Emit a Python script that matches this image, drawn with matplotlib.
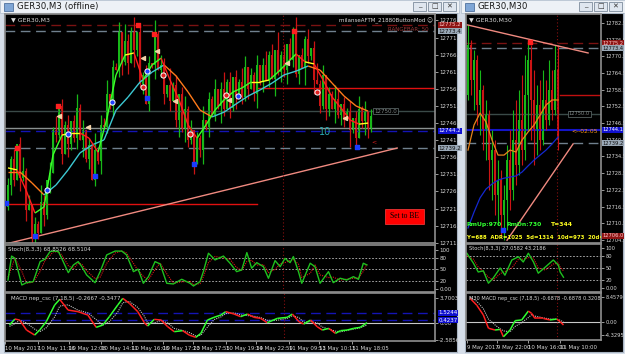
import numpy as np
import matplotlib.pyplot as plt
from matplotlib.patches import Rectangle
from matplotlib.collections import LineCollection

W, H = 625, 354

# ---- GER30,M3 (left window) ----
first_open = 12722.0
close = [12728.5, 12736, 12730, 12740.5, 12730.5, 12732.5, 12721, 12722.5, 12712.5, 12717,
         12714.5, 12723.5, 12719.5, 12730, 12732, 12744.5, 12743, 12751.5, 12737.5, 12746,
         12740.5, 12747, 12742, 12751, 12741.5, 12744.5, 12736, 12740, 12730, 12738.5,
         12735.5, 12746, 12745.5, 12755, 12751.5, 12763, 12762, 12773, 12764.5, 12770.5,
         12764, 12773.5, 12768, 12773, 12758, 12760.5, 12752, 12764, 12763.5, 12772.5,
         12762, 12763.5, 12755, 12757.5, 12753, 12757.5, 12747.5, 12755, 12745, 12750.5,
         12741.5, 12744.5, 12734.5, 12742, 12738.5, 12747.5, 12745.5, 12753.5, 12749, 12756.5,
         12751.5, 12756.5, 12750.5, 12758.5, 12751, 12760, 12754.5, 12758.5, 12754, 12763,
         12756.5, 12760.5, 12755, 12763.5, 12758.5, 12763.5, 12759, 12766.5, 12759.5, 12768,
         12761.5, 12766.5, 12762, 12769.5, 12765, 12773.5, 12761, 12766.5, 12762.5, 12771,
         12766, 12768.5, 12759, 12758, 12751.5, 12760.5, 12750.5, 12755, 12750.5, 12753.5,
         12749, 12752, 12747.5, 12750, 12744.5, 12748, 12742, 12750.5, 12747, 12750,
         12745, 12748.5]
# wick lengths (points) above / below the body, one digit per bar
upper_wick = ("2130241302" "1520314021" "3024130205" "1324021305" "2140213204" "1320513024"
              "1302140213" "0251302143" "0213024130" "5130214021" "3025130214" "3021302413" "02")
lower_wick = ("1320413025" "2031402130" "4213051302" "1402130241" "3052130214" "0231302514"
              "2130241302" "1520314021" "3024130205" "1324021305" "2140213204" "1320513024" "31")

fast_ma = [12733.4, 12732.8, 12726.9, 12720.2, 12722.0, 12737.2, 12743.0, 12743.6, 12743.6, 12742.1,
           12738.0, 12748.0, 12760.6, 12766.4, 12767.0, 12759.1, 12763.5, 12765.5, 12759.1, 12753.3,
           12746.0, 12742.1, 12746.0, 12750.3, 12753.3, 12755.6, 12756.8, 12758.5, 12758.5, 12759.1,
           12761.4, 12764.1, 12766.7, 12764.4, 12763.8, 12759.1, 12754.1, 12750.9, 12747.4, 12746.2,
           12746.5]
slow_ma = [12732.2, 12732.2, 12729.0, 12725.5, 12728.4, 12732.8, 12737.8, 12740.1, 12741.6, 12750.3,
           12754.1, 12758.5, 12761.4, 12763.5, 12760.3, 12755.6, 12750.3, 12748.3, 12749.7, 12752.1,
           12754.4, 12756.2, 12758.2, 12760.6, 12761.7, 12763.2, 12762.0, 12758.2, 12754.4, 12751.5,
           12750.0]

fr_up_bar = [3, 16.7, 43.3, 48.7, 95.3]
fr_up_price = [12739.2, 12751.5, 12775.2, 12772.6, 12773.4]
fr_dn_bar = [-0.7, 9, 29, 46.3, 62, 116.3]
fr_dn_price = [12723.1, 12713.5, 12731.0, 12753.8, 12734.5, 12739.5]
buy_bar = [13, 20, 34.7, 46.3, 76.7]
buy_price = [12727.0, 12743.3, 12752.7, 12761.7, 12754.4]
sell_bar = [45, 51.7, 60.7, 72.7, 103]
sell_price = [12757.1, 12760.6, 12743.3, 12754.7, 12755.6]
tri_bar = [17, 26.7, 45, 49.7, 55.7, 73.7, 93, 112.3]
tri_price = [12748.6, 12745.4, 12765.5, 12767.6, 12753.0, 12753.3, 12764.1, 12748.0]

stoch_bar = [0, 1.2, 2.3, 4.6, 6.2, 8.4, 10.7, 12.3, 14, 15.1, 16.8, 17.9, 20.1, 21.8, 23.4, 24.6,
             26.2, 29, 30.7, 32.9, 35.7, 37.9, 39.5, 41.8, 43.4, 45.1, 46.8, 49, 50.7, 52.9, 55.1,
             57.9, 60.7, 61.8, 64, 65.1, 66.8, 69, 71.8, 74, 76.2, 77.9, 79.6, 81.2, 82.9, 85.1,
             86.8, 89, 90.7, 92.3, 94, 95.1, 96.8, 97.9, 100.7, 102.3, 104, 106.8, 108.4, 110.7,
             112.9, 115.1, 116.8, 118.4, 119.6]
stoch_k = [22.7, 85, 79, 9.7, 15.7, 18.4, 70.5, 76.7, 96.7, 98, 96.7, 79, 41.8, 61.8, 70.5, 57.4,
           35.8, 15.7, 44.4, 88, 98, 98, 88, 44.4, 50.6, 14.1, 31.3, 70.5, 64.5, 14.1, 12.3, 24.5,
           14.1, 7, 18.4, 44.4, 92.4, 74.9, 85, 66.3, 44.4, 48.8, 94, 53.3, 67.9, 57.4, 27.2, 73.1,
           57.4, 79, 67.9, 83.6, 44.4, 14.1, 66.3, 57.4, 14.1, 44.4, 15.7, 27.2, 22.7, 31.3, 24.5,
           66.3, 61.8]
stoch_d = [30, 55, 80, 45, 14, 17, 45, 73, 87, 96, 96, 88, 60, 52, 66, 64, 47, 26, 30, 66, 93, 98,
           93, 66, 47, 32, 23, 50, 67, 39, 14, 18, 19, 11, 13, 31, 68, 84, 80, 76, 55, 47, 71, 74,
           61, 63, 42, 50, 65, 68, 73, 76, 64, 29, 40, 62, 36, 29, 30, 22, 25, 27, 28, 45, 64]

macd_bar = [0, 1.8, 3.4, 5.7, 8.4, 10.1, 12.3, 15.1, 16.8, 19.6, 22.9, 26.2, 29, 31.2, 33.4, 36.2,
            37.9, 40.1, 42.9, 45.1, 46.2, 48.4, 50.7, 52.9, 55.1, 57.9, 60.1, 62.3, 64, 66.2, 68.4,
            70.7, 72.3, 75.1, 77.3, 79.6, 81.8, 84, 86.2, 89.6, 92.9, 94.6, 96.8, 98.4, 100.7,
            102.9, 104.6, 106.8, 109, 110.7, 112.9, 115.1, 117.3, 119.6]
macd = [-0.30, 0.59, 0.44, -1.04, -1.78, -1.04, 0.20, 2.66, 3.50, 1.92, 1.68, 1.18, -0.64, -0.30,
        0.94, 2.66, 3.65, 2.91, 1.68, 0.05, -0.44, 0.54, 0.44, -0.54, -1.28, -1.13, -1.78, -2.12,
        -1.53, 0.44, 0.84, 1.18, 1.68, 1.33, 0.94, 1.33, 0.84, 0.69, 0.05, 0.69, 0.84, 1.33, 0.20,
        -0.15, 0.44, -0.54, -1.04, -0.79, -1.53, -1.13, -1.04, -0.79, -0.64, 0.05]
macd_sig = [-0.5, -0.1, 0.4, 0.0, -0.9, -1.3, -0.7, 0.9, 2.5, 2.7, 1.9, 1.5, 0.5, -0.3, 0.2, 1.6,
            3.0, 3.2, 2.3, 1.0, 0.0, 0.0, 0.4, 0.0, -0.8, -1.1, -1.4, -1.9, -1.8, -0.6, 0.5, 0.9,
            1.4, 1.5, 1.2, 1.1, 1.0, 0.8, 0.4, 0.4, 0.7, 1.1, 0.8, 0.1, 0.2, 0.0, -0.6, -0.9, -1.2,
            -1.3, -1.1, -0.9, -0.7, -0.3]

date_labels = ['10 May 2017', '10 May 11:16', '10 May 12:08', '10 May 14:11', '10 May 16:08',
               '10 May 17:23', '10 May 17:55', '10 May 19:34', '10 May 22:59', '11 May 09:53',
               '11 May 10:15', '11 May 18:05']
date_bars = [-1.5, 9.5, 20, 30.5, 41, 51.5, 61.5, 72.5, 82.5, 93.5, 103.5, 114.5]

# ---- GER30,M30 (right window) ----
r_first_open = 12756.6
r_close = [12774.6, 12762.0, 12769.2, 12753.0, 12758.4, 12744.0, 12749.4, 12733.2, 12736.8, 12720.6,
           12726.0, 12713.4, 12718.8, 12733.2, 12722.4, 12740.4, 12731.4, 12747.6, 12736.8, 12756.6,
           12769.2, 12754.8, 12744.0, 12753.0, 12740.4, 12754.8, 12747.6, 12758.4, 12751.2, 12765.6,
           12740.4]
r_high = [12781.8, 12776.4, 12772.8, 12771.0, 12765.6, 12760.2, 12754.8, 12751.2, 12744.0, 12740.4,
          12733.2, 12729.6, 12724.2, 12738.6, 12744.0, 12751.2, 12754.8, 12758.4, 12763.8, 12771.0,
          12775.7, 12774.6, 12765.6, 12760.2, 12762.0, 12765.6, 12762.0, 12769.2, 12765.6, 12774.6,
          12774.6]
r_low = [12754.8, 12756.6, 12751.2, 12745.8, 12742.2, 12736.8, 12733.2, 12722.4, 12718.8, 12713.4,
         12709.8, 12706.2, 12704.4, 12708.0, 12715.2, 12718.8, 12724.2, 12727.8, 12731.4, 12733.2,
         12744.0, 12740.4, 12731.4, 12735.0, 12736.8, 12738.6, 12744.0, 12745.8, 12747.6, 12749.4,
         12736.8]
r_orange_ma = [12736.8, 12745.8, 12750.1, 12746.9, 12740.4, 12735.0, 12735.0, 12736.8, 12736.1,
               12740.4, 12743.3, 12745.8, 12749.4, 12753.0, 12754.8, 12754.8]
r_blue_ma = [12708.8, 12714.5, 12719.6, 12722.8, 12724.6, 12726.0, 12726.7, 12727.1, 12727.5,
             12728.9, 12731.1, 12733.2, 12735.0, 12736.8, 12739.0, 12741.5]

r_stoch_bar = [-0.4, 1.8, 3.4, 5.1, 6.8, 8.4, 10.7, 12.3, 14.6, 16.8, 18.4, 20.1, 21.8, 23.4, 25.7,
               28.4, 30.1, 30.7, 31.8]
r_stoch_k = [87, 62, 40, 43, 12, 25, 50, 32, 70, 78, 65, 87, 65, 37, 52, 70, 57, 40, 27]
r_stoch_d = [80, 72, 52, 41, 27, 20, 36, 41, 50, 72, 72, 76, 75, 50, 45, 60, 62, 52, 43]

r_macd_bar = [0.7, 2.9, 5.1, 6.8, 9, 10.7, 11.8, 14, 15.7, 17.9, 20.1, 21.2, 22.3, 25.1, 27.3, 29.6,
              30.7, 31.8]
r_macd = [8.0, 5.7, 2.4, -2.1, -2.7, -2.5, -5.0, -2.7, 0.45, 0.7, 3.7, 2.9, 1.2, 1.2, 0.7, 1.0, 0.1, -1.0]
r_macd_sig = [8.5, 7.0, 4.5, 1.0, -1.0, -2.3, -3.0, -3.3, -1.5, -0.2, 1.5, 2.5, 2.0, 1.4, 1.0, 0.9, 0.6, 0.0]

r_date_labels = ['9 May 2017', '9 May 22:00', '10 May 16:00', '11 May 10:00']
r_date_bars = [-0.3, 9.7, 20, 30.7]

GREEN = '#18b818'
RED = '#cc1414'
TXT = '#d8d8d8'
SPINE = '#8e8e8e'
FS = 4.0

fig = plt.figure(figsize=(6.25, 3.54), dpi=100)
fig.patch.set_facecolor('#d6dee9')


def px_axes(x0, y0, x1, y1):
    return fig.add_axes([x0 / W, 1 - y1 / H, (x1 - x0) / W, (y1 - y0) / H])


def frect(x0, y0, x1, y1, zorder=-1, **kw):
    fig.patches.append(Rectangle((x0 / W, 1 - y1 / H), (x1 - x0) / W, (y1 - y0) / H,
                                 transform=fig.transFigure, zorder=zorder, **kw))


def ftext(x, y, s, **kw):
    fig.text(x / W, 1 - y / H, s, **kw)


def style_panel(ax, xlim, ylim, ticks, labels, fs=FS):
    ax.set_facecolor('black')
    ax.set_xlim(*xlim)
    ax.set_ylim(*ylim)
    for sp in ax.spines.values():
        sp.set_color(SPINE)
        sp.set_linewidth(1.2)
    ax.yaxis.tick_right()
    ax.set_yticks(ticks)
    ax.set_yticklabels(labels)
    ax.tick_params(axis='y', colors=TXT, labelsize=fs, length=2, width=0.5, pad=1)
    ax.set_xticks([])


def colored_line(ax, x, y, up, down, flat=None, thr=0.0, lw=1.0, ls='-'):
    x = np.asarray(x, float)
    y = np.asarray(y, float)
    segs = [[(x[k], y[k]), (x[k + 1], y[k + 1])] for k in range(len(x) - 1)]
    cols = []
    for k in range(len(x) - 1):
        dy = y[k + 1] - y[k]
        if flat is not None and abs(dy) <= thr:
            cols.append(flat)
        elif dy > 0:
            cols.append(up)
        else:
            cols.append(down)
    ax.add_collection(LineCollection(segs, colors=cols, linewidths=lw, linestyles=ls))


def candles(ax, o, c, h, l, width, lw):
    o, c, h, l = map(np.asarray, (o, c, h, l))
    x = np.arange(len(c))
    cols = np.where(c >= o, GREEN, RED)
    ax.vlines(x, l, h, colors=cols, linewidth=lw)
    body = np.maximum(np.abs(c - o), 0.3)
    ax.bar(x, body, bottom=np.minimum(o, c), width=width, color=cols, linewidth=0)


def price_box(ax, y, s, fc, tc, fs=FS):
    ax.text(1.008, y, s, transform=ax.get_yaxis_transform(), fontsize=fs, color=tc,
            va='center', ha='left', clip_on=False, zorder=6,
            bbox=dict(boxstyle='square,pad=0.1', fc=fc, ec='none'))


def window_chrome(x0, x1, title):
    frect(x0, 0, x1, 13, facecolor='#edf1f6', edgecolor='#b8c4d2', linewidth=0.6)
    frect(x0 + 4, 3, x0 + 13, 11, facecolor='#7fa6d6', edgecolor='#3a5f8f', linewidth=0.5)
    ftext(x0 + 17, 7, title, fontsize=6.2, color='#1a1a1a', va='center')
    for k, g in enumerate(['_', '\u25a1', '\u2715']):
        bx = x1 - 46 + 15 * k
        frect(bx, 2, bx + 13, 11, facecolor='#dfe6ef', edgecolor='#7e8c9c', linewidth=0.6)
        ftext(bx + 6.5, 6.2 if g != '_' else 4.5, g, fontsize=5, color='#333333',
              ha='center', va='center')


# ---------------- left window ----------------
window_chrome(0, 459, 'GER30,M3 (offline)')
frect(4, 13, 457, 352, facecolor='black', edgecolor='#a9b5c3', linewidth=0.8)

N = len(close)
opens = [first_open] + close[:-1]
uw = [int(ch) for ch in upper_wick[:N]]
lw_ = [int(ch) for ch in lower_wick[:N]]
highs = [max(o, c) + u for o, c, u in zip(opens, close, uw)]
lows = [min(o, c) - d for o, c, d in zip(opens, close, lw_)]

xl = (-1, 142.3)
axm = px_axes(5, 14, 435, 243)
pt = np.arange(12711.5, 12777, 5)
style_panel(axm, xl, (12711.44, 12778.4), pt, ['%.1f' % v for v in pt])

axm.axhline(12775.2, color='#7a1212', lw=1, ls=(0, (7, 4)))
axm.axhline(12773.4, color='#70808e', lw=1, ls=(0, (7, 4)))
axm.axhline(12750.0, color='#3a4a48', lw=1)
axm.axhline(12745.1, color='#8a9090', lw=1)
axm.axhline(12744.2, color='#1414b4', lw=1, ls=(0, (7, 4)))
axm.axhline(12739.2, color='#70808e', lw=1, ls=(0, (7, 4)))
axm.plot([83.3, 142.3], [12756.8, 12756.8], color='#e01010', lw=1)
axm.plot([-1, 83], [12722.8, 12722.8], color='#e01010', lw=1)
axm.plot([-1, 129.7], [12711.1, 12739.2], color='#f08a80', lw=1)
axm.axvline(91.7, color='#8a1010', lw=0.8, ls=(0, (1, 2)))

candles(axm, opens, close, highs, lows, 0.75, 0.9)
colored_line(axm, np.arange(len(slow_ma)) * 4, slow_ma, '#3cc8d2', '#ff7a1a', lw=1.0)
colored_line(axm, np.arange(len(fast_ma)) * 3, fast_ma, '#3cff2a', '#ff1e1e', '#ffff20', 0.7, lw=1.0)

axm.scatter(fr_up_bar, fr_up_price, s=7, marker='s', color='#ff2020', zorder=5)
axm.scatter(fr_dn_bar, fr_dn_price, s=7, marker='s', color='#1a3cff', zorder=5)
axm.scatter(buy_bar, buy_price, s=14, color='#2040ff', edgecolors='white', linewidths=0.7, zorder=5)
axm.scatter(sell_bar, sell_price, s=14, color='#e02020', edgecolors='white', linewidths=0.7, zorder=5)
axm.scatter(tri_bar, tri_price, s=8, marker='<', color='#f2d2a8', zorder=5)
axm.text(121, 12741.0, '<', color='#e02020', fontsize=4.5, va='center')
axm.text(103.5, 12744.0, '10', color='#2aa8b0', fontsize=7, va='center')
axm.text(122, 12750.0, '12750.0', color='#808888', fontsize=FS, va='center',
         bbox=dict(boxstyle='square,pad=0.15', fc='black', ec='#556060', lw=0.6))
axm.text(0.015, 0.985, '\u25bc GER30,M3', transform=axm.transAxes, fontsize=4.5, color=TXT, va='top')
axm.text(0.995, 0.985, 'milanseAFTM_21880ButtonMod \u263a', transform=axm.transAxes, fontsize=FS,
         color=TXT, va='top', ha='right')
axm.text(0.985, 0.945, 'RANGEBAR: 50', transform=axm.transAxes, fontsize=FS,
         color='#9a3a3a', va='top', ha='right')
price_box(axm, 12775.2, '12775.2', '#8e1414', '#ffc8c8')
price_box(axm, 12773.4, '12773.4', '#9aa8b6', '#101010')
price_box(axm, 12744.2, '12744.2', '#1010d0', 'white')
price_box(axm, 12739.2, '12739.2', '#9aa8b6', '#101010')

frect(385, 209, 424, 224, zorder=5, facecolor='#ff0000', edgecolor='#ff4040', linewidth=0.5)
ftext(404.5, 216.5, 'Set to BE', fontsize=5.5, family='Liberation Serif', color='black',
      ha='center', va='center', zorder=6)

axs = px_axes(5, 245, 435, 292)
style_panel(axs, xl, (-8.6, 113.8), [0, 20, 50, 80, 100], ['0.00', '20', '50', '80', '100'])
for lv in (20, 50, 80):
    axs.axhline(lv, color='#bdbdbd', lw=0.6, ls=(0, (2, 2)))
axs.axvline(91.7, color='#8a1010', lw=0.8, ls=(0, (1, 2)))
axs.plot(stoch_bar, stoch_d, color='#e01818', lw=0.8, ls=(0, (1, 1)))
axs.plot(stoch_bar, stoch_k, color='#1fc01f', lw=1.0)
axs.text(0.008, 0.95, 'Stoch(8,3,3) 68.8526 68.5104', transform=axs.transAxes, fontsize=FS,
         color=TXT, va='top')

axc = px_axes(5, 293, 435, 341)
style_panel(axc, xl, (-2.66, 4.44), [-2.5856, 0, 3.7003], ['-2.5856', '0.00', '3.7003'])
axc.axhline(0, color='#c8c8c8', lw=0.8)
axc.axhline(1.5244, color='#1414b4', lw=1, ls=(0, (7, 4)))
axc.axhline(0.4237, color='#1414b4', lw=1, ls=(0, (7, 4)))
axc.axvline(91.7, color='#8a1010', lw=0.8, ls=(0, (1, 2)))
axc.plot(macd_bar, macd_sig, color='#bfbfbf', lw=0.8, ls=(0, (1, 1)))
colored_line(axc, macd_bar, macd, '#30ff30', '#ff2020', lw=1.1)
price_box(axc, 1.5244, '1.5244', '#1010d0', 'white')
price_box(axc, 0.4237, '0.4237', '#1010d0', 'white')
axc.text(0.015, 0.96, 'MACD nep_csc (7,18,5) -0.2667 -0.3477', transform=axc.transAxes,
         fontsize=FS, color=TXT, va='top')
axc.set_xticks(date_bars)
axc.set_xticklabels(date_labels)
axc.tick_params(axis='x', colors=TXT, labelsize=3.9, length=2, width=0.5, pad=1.5)
for lab in axc.get_xticklabels():
    lab.set_ha('left')

# ---------------- right window ----------------
window_chrome(461, 625, 'GER30,M30')
frect(465, 13, 623, 352, facecolor='black', edgecolor='#a9b5c3', linewidth=0.8)

RFS = 3.7
r_open = [r_first_open] + r_close[:-1]
rxl = (-0.67, 44.3)
ram = px_axes(466, 14, 601, 243)
rpt = np.arange(12704.5, 12783, 6)
style_panel(ram, rxl, (12703.4, 12785.7), rpt, ['%.1f' % v for v in rpt], RFS)
ram.axhline(12775.2, color='#7a1212', lw=1, ls=(0, (7, 4)))
ram.axhline(12773.4, color='#70808e', lw=1, ls=(0, (7, 4)))
ram.axhline(12749.8, color='#3a4a48', lw=1)
ram.axhline(12744.1, color='#1414c8', lw=1.5)
ram.axhline(12739.2, color='#70808e', lw=1, ls=(0, (7, 4)))
ram.plot([30.7, 45], [12756.6, 12756.6], color='#c01010', lw=1)
ram.axvline(29.5, color='#8a1010', lw=0.8, ls=(0, (1, 2)))
candles(ram, r_open, r_close, r_high, r_low, 0.45, 0.8)
ram.plot(np.arange(len(r_orange_ma)) * 2, r_orange_ma, color='#e8841c', lw=0.9)
ram.plot(np.arange(len(r_blue_ma)) * 2, r_blue_ma, color='#1428d0', lw=0.9)
ram.plot([-0.3, 40], [12781.8, 12771.7], color='#f08a80', lw=1)
ram.plot([13, 35], [12704.4, 12739.0], color='#f08a80', lw=1)
ram.scatter([20.7], [12775.7], s=7, marker='s', color='#ff2020', zorder=5)
ram.scatter([11.7], [12708.0], s=7, marker='s', color='#1a3cff', zorder=5)
ram.text(33.5, 12749.8, '12750.0', color='#808888', fontsize=RFS, va='center',
         bbox=dict(boxstyle='square,pad=0.15', fc='black', ec='#556060', lw=0.6))
ram.text(34.5, 12743.3, '<--02:05', color='#ff9a10', fontsize=4.3, va='center')
ram.text(0.02, 0.985, '\u25bc GER30,M30', transform=ram.transAxes, fontsize=4.5, color=TXT, va='top')
ram.text(0.005, 0.079, 'RmUp:970', transform=ram.transAxes, fontsize=4.4, color='#30ff30',
         weight='bold', va='center')
ram.text(0.30, 0.079, 'RmDn:730', transform=ram.transAxes, fontsize=4.4, color='#30ff30',
         weight='bold', va='center')
ram.text(0.63, 0.079, 'T=344', transform=ram.transAxes, fontsize=4.4, color='#ffff20',
         weight='bold', va='center')
ram.text(0.005, 0.022, 'Y=688  ADR=1025  5d=1314  10d=973  20d=1113', transform=ram.transAxes,
         fontsize=3.9, color='#ffff20', weight='bold', va='center', clip_on=True)
price_box(ram, 12775.2, '12775.2', '#8e1414', '#ffc8c8', RFS)
price_box(ram, 12773.4, '12773.4', '#9aa8b6', '#101010', RFS)
price_box(ram, 12744.1, '12744.1', '#1010d0', 'white', RFS)
price_box(ram, 12739.2, '12739.2', '#9aa8b6', '#101010', RFS)
price_box(ram, 12706.0, '12706.0', '#8e1414', '#ffc8c8', RFS)

ras = px_axes(466, 244, 601, 292)
style_panel(ras, rxl, (-10, 110), [0, 20, 50, 80, 100], ['0.00', '20', '50', '80', '100'], RFS)
for lv in (20, 50, 80):
    ras.axhline(lv, color='#bdbdbd', lw=0.6, ls=(0, (2, 2)))
ras.axvline(29.5, color='#8a1010', lw=0.8, ls=(0, (1, 2)))
ras.plot(r_stoch_bar, r_stoch_d, color='#e01818', lw=0.8, ls=(0, (1, 1)))
ras.plot(r_stoch_bar, r_stoch_k, color='#1fc01f', lw=1.0)
ras.text(0.02, 0.95, 'Stoch(8,3,3) 27.0582 43.2186', transform=ras.transAxes, fontsize=RFS,
         color=TXT, va='top')

rac = px_axes(466, 293, 601, 340)
style_panel(rac, rxl, (-6.08, 9.8), [-4.3295, 0, 8.4579], ['-4.3295', '0.00', '8.4579'], RFS)
rac.axhline(0, color='#c8c8c8', lw=0.8)
rac.axvline(29.5, color='#8a1010', lw=0.8, ls=(0, (1, 2)))
rac.plot(r_macd_bar, r_macd_sig, color='#bfbfbf', lw=0.8, ls=(0, (1, 1)))
colored_line(rac, r_macd_bar, r_macd, '#30ff30', '#ff2020', lw=1.1)
rac.text(0.02, 0.96, 'M30 MACD nep_csc (7,18,5) -0.6878 -0.6878 0.3208', transform=rac.transAxes,
         fontsize=3.6, color=TXT, va='top')
rac.set_xticks(r_date_bars)
rac.set_xticklabels(r_date_labels)
rac.tick_params(axis='x', colors=TXT, labelsize=3.9, length=2, width=0.5, pad=1.5)
for lab in rac.get_xticklabels():
    lab.set_ha('left')

fig.savefig('out.png', dpi=100, facecolor=fig.get_facecolor())
